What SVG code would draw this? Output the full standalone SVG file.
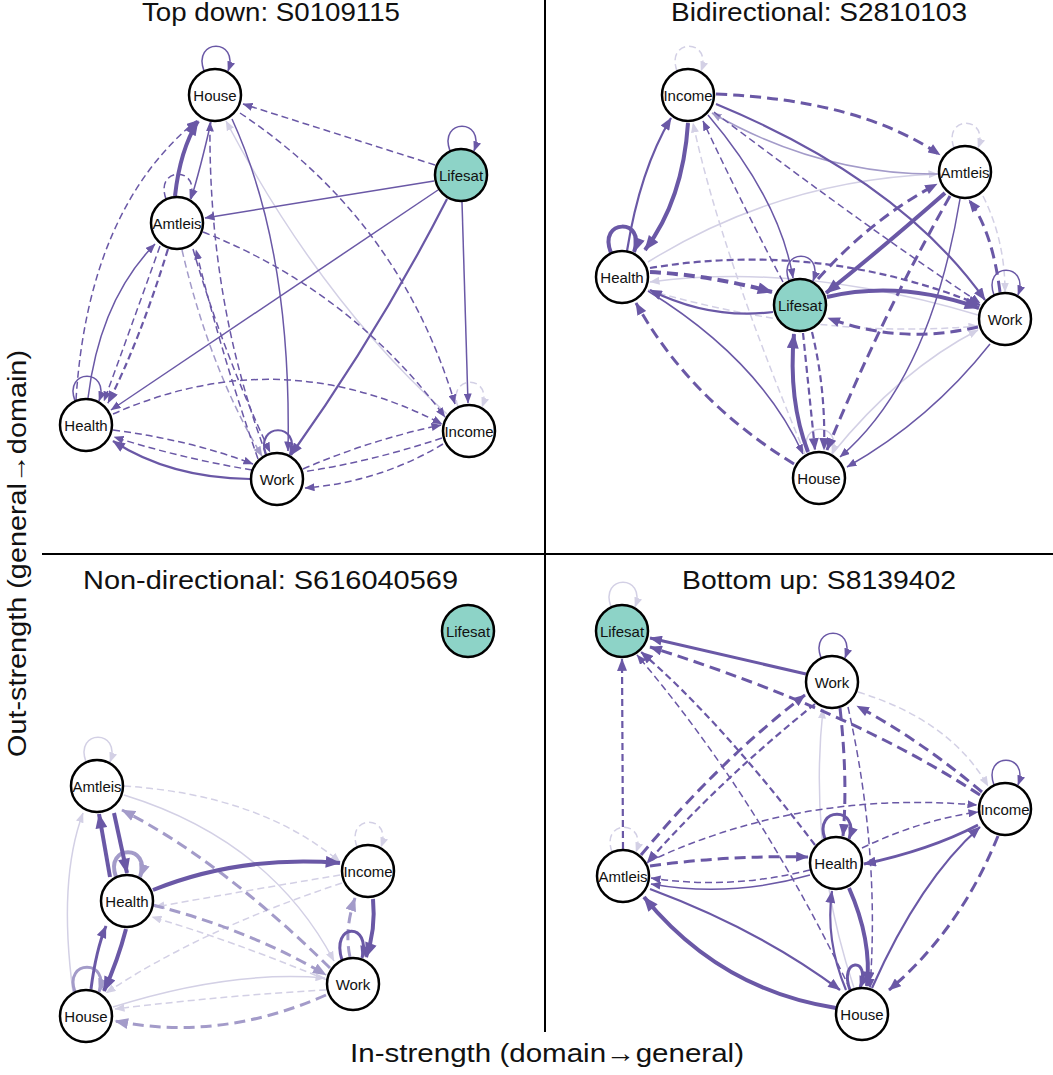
<svg xmlns="http://www.w3.org/2000/svg" width="1053" height="1075" viewBox="0 0 1053 1075">
<style>
.bg{fill:#fff}
.e{fill:none;stroke:#6a58a6;stroke-width:1.5}
.m{stroke:#a39bc9}
.l{stroke:#d3d0e5}
.d{stroke-dasharray:7 4}
.dd{stroke-dasharray:11 6}
.w2{stroke-width:2.2}
.w3{stroke-width:3}
.w4{stroke-width:4}
.n{fill:#fff;stroke:#000;stroke-width:2.5}
.ls{fill:#8dd3c7}
.nt{font-family:"Liberation Sans",Arial,sans-serif;font-size:15px;fill:#111;text-anchor:middle;dominant-baseline:central}
.tt{font-family:"Liberation Sans",Arial,sans-serif;font-size:25px;fill:#111}
.ax{font-family:"Liberation Sans",Arial,sans-serif;font-size:26px;fill:#111}
.div{stroke:#000;stroke-width:2;fill:none}
</style>
<defs>
<marker id="aD" viewBox="0 0 10 8" refX="9.5" refY="4" markerUnits="userSpaceOnUse" markerWidth="10" markerHeight="8" orient="auto"><path d="M0,0 L10,4 L0,8 Z" fill="#6a58a6"/></marker>
<marker id="aDM" viewBox="0 0 10 8" refX="9.5" refY="4" markerUnits="userSpaceOnUse" markerWidth="13" markerHeight="10" orient="auto"><path d="M0,0 L10,4 L0,8 Z" fill="#6a58a6"/></marker>
<marker id="aDL" viewBox="0 0 10 8" refX="9.5" refY="4" markerUnits="userSpaceOnUse" markerWidth="16" markerHeight="12" orient="auto"><path d="M0,0 L10,4 L0,8 Z" fill="#6a58a6"/></marker>
<marker id="aM" viewBox="0 0 10 8" refX="9.5" refY="4" markerUnits="userSpaceOnUse" markerWidth="10" markerHeight="8" orient="auto"><path d="M0,0 L10,4 L0,8 Z" fill="#a39bc9"/></marker>
<marker id="aML" viewBox="0 0 10 8" refX="9.5" refY="4" markerUnits="userSpaceOnUse" markerWidth="14" markerHeight="11" orient="auto"><path d="M0,0 L10,4 L0,8 Z" fill="#a39bc9"/></marker>
<marker id="aL" viewBox="0 0 10 8" refX="9.5" refY="4" markerUnits="userSpaceOnUse" markerWidth="10" markerHeight="8" orient="auto"><path d="M0,0 L10,4 L0,8 Z" fill="#d3d0e5"/></marker>
</defs>
<rect class="bg" x="0" y="0" width="1053" height="1075"/>

<g id="dividers">
<line class="div" x1="545" y1="0" x2="545" y2="1032"/>
<line class="div" x1="42" y1="554" x2="1053" y2="554"/>
</g>

<g id="titles">
<text class="tt" x="142" y="21" textLength="258" lengthAdjust="spacingAndGlyphs">Top down: S0109115</text>
<text class="tt" x="671" y="21" textLength="296" lengthAdjust="spacingAndGlyphs">Bidirectional: S2810103</text>
<text class="tt" x="83" y="589" textLength="375" lengthAdjust="spacingAndGlyphs">Non-directional: S616040569</text>
<text class="tt" x="682" y="589" textLength="274" lengthAdjust="spacingAndGlyphs">Bottom up: S8139402</text>
<text class="ax" x="350" y="1062" textLength="394" lengthAdjust="spacingAndGlyphs">In-strength (domain→general)</text>
<text class="ax" transform="translate(26,757) rotate(-90)" x="0" y="0" textLength="407" lengthAdjust="spacingAndGlyphs">Out-strength (general→domain)</text>
</g>

<g id="connectors">
<!-- Panel 1: Top down -->
<path class="e l" d="M447 414 Q320 300 226 121" marker-end="url(#aL)"/>
<path class="e l d" d="M458 407 C446 374,494 374,482 407" marker-end="url(#aL)"/>
<path class="e m d" d="M182 250 Q210 370 262 456" marker-end="url(#aM)"/>
<path class="e" d="M204 71 C192 38,240 38,228 71" marker-end="url(#aD)"/>
<path class="e" d="M450 151 C438 118,486 118,474 151" marker-end="url(#aD)"/>
<path class="e" d="M75 401 C63 368,111 368,99 401" marker-end="url(#aD)"/>
<path class="e w2" d="M266 455 C254 422,302 422,290 455" marker-end="url(#aD)"/>
<path class="e d" d="M166 199 C154 166,202 166,190 199" marker-end="url(#aD)"/>
<path class="e d" d="M435 165 L243 104" marker-end="url(#aD)"/>
<path class="e" d="M434 181 L205 218" marker-end="url(#aD)"/>
<path class="e" d="M438 190 L111 410" marker-end="url(#aD)"/>
<path class="e w2" d="M447 199 Q380 330 291 455" marker-end="url(#aDM)"/>
<path class="e" d="M462 202 L468 403" marker-end="url(#aD)"/>
<path class="e" d="M232 119 Q292 250 288 451" marker-end="url(#aD)"/>
<path class="e w4" d="M175 196 Q180 150 198 121" marker-end="url(#aDL)"/>
<path class="e" d="M211 122 Q200 170 191 199" marker-end="url(#aD)"/>
<path class="e" d="M88 398 Q100 300 155 244" marker-end="url(#aD)"/>
<path class="e w2" d="M250 479 Q170 478 113 441" marker-end="url(#aDM)"/>
<path class="e d" d="M76 400 Q88 210 196 121" marker-end="url(#aD)"/>
<path class="e d" d="M240 113 Q400 220 455 404" marker-end="url(#aD)"/>
<path class="e d w2" d="M168 249 Q140 340 108 403" marker-end="url(#aDM)"/>
<path class="e d" d="M160 246 Q130 330 104 401" marker-end="url(#aD)"/>
<path class="e d" d="M203 232 Q350 290 445 417" marker-end="url(#aD)"/>
<path class="e d" d="M113 414 Q280 340 442 424" marker-end="url(#aD)"/>
<path class="e d" d="M113 430 Q190 440 253 464" marker-end="url(#aD)"/>
<path class="e d" d="M252 470 Q180 458 114 437" marker-end="url(#aD)"/>
<path class="e d" d="M303 469 Q370 440 441 425" marker-end="url(#aD)"/>
<path class="e d" d="M443 444 Q380 482 305 488" marker-end="url(#aD)"/>
<path class="e d" d="M442 438 Q370 462 302 472"/>
<path class="e d" d="M193 249 Q222 350 270 452" marker-end="url(#aD)"/>
<path class="e d" d="M258 459 Q220 350 196 250" marker-end="url(#aD)"/>
<path class="e d" d="M266 454 Q208 300 210 122" marker-end="url(#aD)"/>

<!-- Panel 2: Bidirectional -->
<path class="e l d" d="M677 71 C665 38,713 38,701 71" marker-end="url(#aL)"/>
<path class="e l d" d="M954 148 C942 115,990 115,978 148" marker-end="url(#aL)"/>
<path class="e l" d="M808 454 C796 421,844 421,832 454" marker-end="url(#aL)"/>
<path class="e l d" d="M983 196 Q1005 240 1005 292" marker-end="url(#aL)"/>
<path class="e l" d="M648 262 Q780 180 938 174" marker-end="url(#aL)"/>
<path class="e l d" d="M805 454 Q720 250 693 123" marker-end="url(#aL)"/>
<path class="e l" d="M832 454 Q900 370 978 330" marker-end="url(#aL)"/>
<path class="e l" d="M978 315 Q800 262 650 282" marker-end="url(#aL)"/>
<path class="e l d" d="M648 290 Q820 340 978 326" marker-end="url(#aL)"/>
<path class="e m" d="M938 174 Q820 175 712 113" marker-end="url(#aM)"/>
<path class="e w4" d="M611 253 C597 218,647 218,634 252" marker-end="url(#aDL)"/>
<path class="e" d="M789 281 C777 248,825 248,813 281" marker-end="url(#aD)"/>
<path class="e" d="M994 295 C982 262,1030 262,1018 295" marker-end="url(#aD)"/>
<path class="e dd w3" d="M716 94 Q860 100 940 155" marker-end="url(#aDM)"/>
<path class="e w2" d="M716 104 Q900 180 985 300" marker-end="url(#aDM)"/>
<path class="e w2" d="M627 251 Q640 170 671 118" marker-end="url(#aDM)"/>
<path class="e w4" d="M688 123 Q683 200 645 250" marker-end="url(#aDL)"/>
<path class="e d" d="M783 282 Q740 200 703 121" marker-end="url(#aD)"/>
<path class="e" d="M708 115 Q780 200 793 278" marker-end="url(#aD)"/>
<path class="e d" d="M714 112 Q870 230 980 303" marker-end="url(#aD)"/>
<path class="e w4" d="M945 193 Q880 250 826 293" marker-end="url(#aDL)"/>
<path class="e dd w3" d="M818 279 Q870 220 937 184" marker-end="url(#aDM)"/>
<path class="e dd w3" d="M1000 292 Q992 230 969 200" marker-end="url(#aDM)"/>
<path class="e dd w3" d="M950 196 Q880 320 827 450" marker-end="url(#aDM)"/>
<path class="e" d="M960 199 Q930 380 840 457" marker-end="url(#aD)"/>
<path class="e" d="M990 344 Q930 420 847 467" marker-end="url(#aD)"/>
<path class="e w4" d="M827 297 Q900 280 979 308" marker-end="url(#aDL)"/>
<path class="e dd w3" d="M978 327 Q900 345 828 318" marker-end="url(#aDM)"/>
<path class="e dd w4" d="M650 272 Q710 275 772 292" marker-end="url(#aDL)"/>
<path class="e w2" d="M773 312 Q710 320 650 290" marker-end="url(#aDM)"/>
<path class="e d w2" d="M650 268 Q820 240 980 305" marker-end="url(#aDM)"/>
<path class="e" d="M648 291 Q760 360 803 454" marker-end="url(#aD)"/>
<path class="e dd w3" d="M794 464 Q690 400 636 303" marker-end="url(#aDM)"/>
<path class="e w4" d="M808 452 Q788 400 794 334" marker-end="url(#aDL)"/>
<path class="e d w2" d="M803 333 L815 450" marker-end="url(#aDM)"/>
<path class="e d w2" d="M812 332 Q826 390 824 450" marker-end="url(#aDM)"/>

<!-- Panel 3: Non-directional -->
<path class="e l" d="M86 762 C74 729,122 729,110 762" marker-end="url(#aL)"/>
<path class="e l d" d="M357 847 C345 814,393 814,381 847" marker-end="url(#aL)"/>
<path class="e l" d="M124 795 Q270 840 334 961" marker-end="url(#aL)"/>
<path class="e l d" d="M124 786 Q260 795 340 862" marker-end="url(#aL)"/>
<path class="e l" d="M113 1007 Q230 970 325 978" marker-end="url(#aL)"/>
<path class="e l d" d="M326 990 Q230 995 115 1009" marker-end="url(#aL)"/>
<path class="e l d" d="M340 875 Q250 890 155 907" marker-end="url(#aL)"/>
<path class="e l d" d="M342 883 Q200 930 106 993" marker-end="url(#aL)"/>
<path class="e l d" d="M327 980 Q230 940 152 917" marker-end="url(#aL)"/>
<path class="e l" d="M73 992 Q58 880 83 813" marker-end="url(#aL)"/>
<path class="e m w4" d="M116 877 C104 844,152 844,140 877" marker-end="url(#aML)"/>
<path class="e m w3" d="M75 992 C63 959,111 959,99 992" marker-end="url(#aML)"/>
<path class="e m dd w3" d="M350 957 Q344 930 355 898" marker-end="url(#aML)"/>
<path class="e m dd w3" d="M326 995 Q220 1042 115 1021" marker-end="url(#aML)"/>
<path class="e m dd w3" d="M330 968 Q220 860 122 810" marker-end="url(#aML)"/>
<path class="e m dd w3" d="M153 905 Q250 930 326 975" marker-end="url(#aML)"/>
<path class="e w3" d="M342 960 C330 922,372 922,362 958" marker-end="url(#aDM)"/>
<path class="e w4" d="M110 877 L99 814" marker-end="url(#aDL)"/>
<path class="e w4" d="M114 813 L127 873" marker-end="url(#aDL)"/>
<path class="e w4" d="M126 929 Q118 960 104 991" marker-end="url(#aDL)"/>
<path class="e w3" d="M91 989 Q96 950 106 926" marker-end="url(#aDM)"/>
<path class="e w4" d="M153 890 Q240 855 340 863" marker-end="url(#aDL)"/>
<path class="e w4" d="M373 899 Q376 930 366 957" marker-end="url(#aDL)"/>

<!-- Panel 4: Bottom up -->
<path class="e l" d="M611 607 C599 574,647 574,635 607" marker-end="url(#aL)"/>
<path class="e l d" d="M612 852 C600 819,648 819,636 852" marker-end="url(#aL)"/>
<path class="e l" d="M854 988 Q808 850 823 709" marker-end="url(#aL)"/>
<path class="e l d" d="M858 692 Q950 720 988 786" marker-end="url(#aL)"/>
<path class="e" d="M821 658 C809 625,857 625,845 658" marker-end="url(#aD)"/>
<path class="e" d="M994 785 C982 752,1030 752,1018 785" marker-end="url(#aD)"/>
<path class="e w3" d="M825 839 C813 806,861 806,849 839" marker-end="url(#aDM)"/>
<path class="e w3" d="M850 990 C838 958,872 956,860 988" marker-end="url(#aDM)"/>
<path class="e w3" d="M806 674 L650 638" marker-end="url(#aDM)"/>
<path class="e dd w3" d="M980 795 Q850 710 650 647" marker-end="url(#aDM)"/>
<path class="e dd w3" d="M982 792 Q920 740 857 706" marker-end="url(#aDM)"/>
<path class="e d w2" d="M623 849 L622 659" marker-end="url(#aDM)"/>
<path class="e dd w3" d="M641 855 Q720 760 805 695" marker-end="url(#aDM)"/>
<path class="e d w2" d="M815 845 Q720 720 641 652" marker-end="url(#aDM)"/>
<path class="e d" d="M850 989 Q760 800 637 655" marker-end="url(#aD)"/>
<path class="e d w2" d="M815 704 Q720 780 647 863" marker-end="url(#aDM)"/>
<path class="e dd w3" d="M840 708 Q848 780 843 836" marker-end="url(#aDM)"/>
<path class="e d" d="M848 707 Q880 850 870 988" marker-end="url(#aD)"/>
<path class="e dd w3" d="M650 866 Q730 855 808 857" marker-end="url(#aDM)"/>
<path class="e d" d="M810 870 Q730 890 651 878" marker-end="url(#aD)"/>
<path class="e d" d="M648 862 Q800 790 977 805" marker-end="url(#aD)"/>
<path class="e d" d="M862 848 Q920 820 978 812" marker-end="url(#aD)"/>
<path class="e w3" d="M978 825 Q930 850 864 864" marker-end="url(#aDM)"/>
<path class="e" d="M810 875 Q730 898 651 884" marker-end="url(#aD)"/>
<path class="e w2" d="M650 889 Q760 930 840 990" marker-end="url(#aDM)"/>
<path class="e w4" d="M836 1008 Q720 990 644 897" marker-end="url(#aDL)"/>
<path class="e w4" d="M849 888 Q872 940 867 986" marker-end="url(#aDL)"/>
<path class="e w2" d="M846 990 Q825 940 832 891" marker-end="url(#aDM)"/>
<path class="e w2" d="M872 988 Q920 880 980 827" marker-end="url(#aDM)"/>
<path class="e dd w3" d="M998 836 Q960 930 889 990" marker-end="url(#aDM)"/>
</g>

<g id="p1-house"><circle class="n" cx="215" cy="95" r="26"/><text class="nt" x="215" y="95">House</text></g>
<g id="p1-lifesat"><circle class="n ls" cx="461" cy="175" r="26"/><text class="nt" x="461" y="175">Lifesat</text></g>
<g id="p1-amtleis"><circle class="n" cx="177" cy="223" r="26"/><text class="nt" x="177" y="223">Amtleis</text></g>
<g id="p1-health"><circle class="n" cx="86" cy="425" r="26"/><text class="nt" x="86" y="425">Health</text></g>
<g id="p1-work"><circle class="n" cx="277" cy="479" r="26"/><text class="nt" x="277" y="479">Work</text></g>
<g id="p1-income"><circle class="n" cx="469" cy="431" r="26"/><text class="nt" x="469" y="431">Income</text></g>

<g id="p2-income"><circle class="n" cx="688" cy="95" r="26"/><text class="nt" x="688" y="95">Income</text></g>
<g id="p2-amtleis"><circle class="n" cx="965" cy="172" r="26"/><text class="nt" x="965" y="172">Amtleis</text></g>
<g id="p2-health"><circle class="n" cx="622" cy="277" r="26"/><text class="nt" x="622" y="277">Health</text></g>
<g id="p2-lifesat"><circle class="n ls" cx="800" cy="305" r="26"/><text class="nt" x="800" y="305">Lifesat</text></g>
<g id="p2-work"><circle class="n" cx="1005" cy="319" r="26"/><text class="nt" x="1005" y="319">Work</text></g>
<g id="p2-house"><circle class="n" cx="819" cy="478" r="26"/><text class="nt" x="819" y="478">House</text></g>

<g id="p3-lifesat"><circle class="n ls" cx="468" cy="631" r="26"/><text class="nt" x="468" y="631">Lifesat</text></g>
<g id="p3-amtleis"><circle class="n" cx="97" cy="786" r="26"/><text class="nt" x="97" y="786">Amtleis</text></g>
<g id="p3-health"><circle class="n" cx="127" cy="901" r="26"/><text class="nt" x="127" y="901">Health</text></g>
<g id="p3-income"><circle class="n" cx="368" cy="871" r="26"/><text class="nt" x="368" y="871">Income</text></g>
<g id="p3-work"><circle class="n" cx="353" cy="984" r="26"/><text class="nt" x="353" y="984">Work</text></g>
<g id="p3-house"><circle class="n" cx="86" cy="1016" r="26"/><text class="nt" x="86" y="1016">House</text></g>

<g id="p4-lifesat"><circle class="n ls" cx="622" cy="631" r="26"/><text class="nt" x="622" y="631">Lifesat</text></g>
<g id="p4-work"><circle class="n" cx="832" cy="682" r="26"/><text class="nt" x="832" y="682">Work</text></g>
<g id="p4-income"><circle class="n" cx="1005" cy="809" r="26"/><text class="nt" x="1005" y="809">Income</text></g>
<g id="p4-amtleis"><circle class="n" cx="623" cy="876" r="26"/><text class="nt" x="623" y="876">Amtleis</text></g>
<g id="p4-health"><circle class="n" cx="836" cy="863" r="26"/><text class="nt" x="836" y="863">Health</text></g>
<g id="p4-house"><circle class="n" cx="862" cy="1014" r="26"/><text class="nt" x="862" y="1014">House</text></g>
</svg>
